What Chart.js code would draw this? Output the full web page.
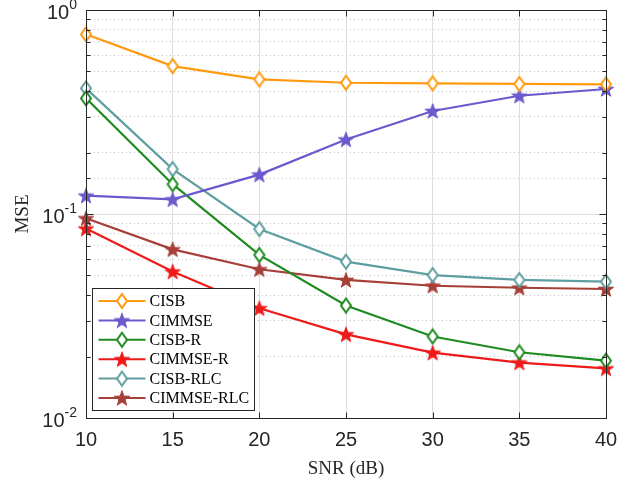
<!DOCTYPE html>
<html>
<head>
<meta charset="utf-8">
<script src="https://cdn.jsdelivr.net/npm/chart.js@4.4.1/dist/chart.umd.min.js"></script>
<style>
  html, body { margin: 0; padding: 0; background: #fff; }
  #grafico { display: block; }
</style>
</head>
<body>
<canvas id="grafico" width="637" height="484"></canvas>
<script>
// valores (MSE x SNR)
const snr = [10, 15, 20, 25, 30, 35, 40];
const cisb = [0.76, 0.531, 0.457, 0.44, 0.437, 0.434, 0.432];
const cimmse = [0.123, 0.118, 0.156, 0.232, 0.32, 0.38, 0.41];
const cisbR = [0.369, 0.14, 0.063, 0.0356, 0.0251, 0.021, 0.0191];
const cimmseR = [0.0848, 0.0522, 0.0345, 0.0257, 0.0209, 0.0187, 0.0175];
const cisbRlc = [0.413, 0.166, 0.0844, 0.0584, 0.0502, 0.0475, 0.0466];
const cimmseRlc = [0.0953, 0.0671, 0.0536, 0.0475, 0.0445, 0.0435, 0.0429];

const nomes = ["CISB", "CIMMSE", "CISB-R", "CIMMSE-R", "CISB-RLC", "CIMMSE-RLC"];
const series = [cisb, cimmse, cisbR, cimmseR, cisbRlc, cimmseRlc];
const cores = ["#FF9A0F", "#6A5ACD", "#1F8A1F", "#EE1A1A", "#5F9EA0", "#A63F38"];
const marcadores = ["diamante", "estrela", "diamante", "estrela", "diamante", "estrela"];

const yMajor = [1, 0.1, 0.01];
const yExpoentes = ["0", "-1", "-2"];

const corEixo = "#262626";

function criarDiamante(cor) {
  const c = document.createElement("canvas");
  c.width = 14;
  c.height = 18;
  const g = c.getContext("2d");
  g.beginPath();
  g.moveTo(7, 2);
  g.lineTo(12, 9);
  g.lineTo(7, 16);
  g.lineTo(2, 9);
  g.closePath();
  g.fillStyle = "#fff";
  g.fill();
  g.lineWidth = 2;
  g.strokeStyle = cor;
  g.stroke();
  return c;
}

function criarEstrela(cor) {
  const size = 18;
  const c = document.createElement("canvas");
  c.width = size;
  c.height = size;
  const g = c.getContext("2d");
  const R = 8;
  const r = R * 0.4;
  g.beginPath();
  for (let i = 0; i < 10; i++) {
    const rad = i % 2 === 0 ? R : r;
    const a = -Math.PI / 2 + (i * Math.PI) / 5;
    const px = size / 2 + rad * Math.cos(a);
    const py = size / 2 + 0.7 + rad * Math.sin(a);
    if (i === 0) g.moveTo(px, py);
    else g.lineTo(px, py);
  }
  g.closePath();
  g.fillStyle = cor;
  g.fill();
  g.lineWidth = 1;
  g.strokeStyle = cor;
  g.stroke();
  return c;
}

function isMajor(v) {
  const l = Math.log10(v);
  return Math.abs(l - Math.round(l)) < 1e-6;
}

const datasets = series.map((vals, i) => {
  const estilo = marcadores[i] === "diamante" ? criarDiamante(cores[i]) : criarEstrela(cores[i]);
  return {
    label: nomes[i],
    data: snr.map((x, k) => ({ x: x, y: vals[k] })),
    borderColor: cores[i],
    backgroundColor: cores[i],
    borderWidth: 2.2,
    pointStyle: estilo,
    pointRadius: 7,
    tension: 0,
    clip: false,
  };
});

// moldura, ticks para dentro e rótulos 10^n
const eixosPlugin = {
  id: "eixosMatlab",
  afterDraw(chart) {
    const ctx = chart.ctx;
    const a = chart.chartArea;
    const xs = chart.scales.x;
    const ys = chart.scales.y;
    ctx.save();
    ctx.strokeStyle = corEixo;
    ctx.lineWidth = 1;
    const L = Math.round(a.left) + 0.5;
    const R = Math.round(a.right) + 0.5;
    const T = Math.round(a.top) + 0.5;
    const B = Math.round(a.bottom) + 0.5;
    ctx.strokeRect(L, T, R - L, B - T);

    ctx.beginPath();
    xs.ticks.forEach((t) => {
      const px = Math.round(xs.getPixelForValue(t.value)) + 0.5;
      ctx.moveTo(px, B);
      ctx.lineTo(px, B - 6);
      ctx.moveTo(px, T);
      ctx.lineTo(px, T + 6);
    });
    ys.ticks.forEach((t) => {
      const py = Math.round(ys.getPixelForValue(t.value)) + 0.5;
      const len = isMajor(t.value) ? 7 : 4;
      ctx.moveTo(L, py);
      ctx.lineTo(L + len, py);
      ctx.moveTo(R, py);
      ctx.lineTo(R - len, py);
    });
    ctx.stroke();

    ctx.fillStyle = corEixo;
    ctx.textBaseline = "middle";
    yMajor.forEach((v, i) => {
      const py = ys.getPixelForValue(v);
      ctx.font = "14px 'Liberation Sans', Arial, sans-serif";
      ctx.textAlign = "right";
      const expW = ctx.measureText(yExpoentes[i]).width;
      ctx.fillText(yExpoentes[i], 77, py - 5);
      ctx.font = "20px 'Liberation Sans', Arial, sans-serif";
      ctx.fillText("10", 77 - expW, py + 3);
    });
    ctx.restore();
  },
};

const legendaPlugin = {
  id: "legendaMatlab",
  afterDraw(chart) {
    const ctx = chart.ctx;
    const x0 = 92.5;
    const y0 = 288.5;
    const w = 162;
    const h = 122;
    ctx.save();
    ctx.fillStyle = "#fff";
    ctx.fillRect(x0, y0, w, h);
    ctx.strokeStyle = corEixo;
    ctx.lineWidth = 1;
    ctx.strokeRect(x0, y0, w, h);
    ctx.font = "16px 'Liberation Serif', 'Times New Roman', serif";
    ctx.textAlign = "left";
    ctx.textBaseline = "middle";
    chart.data.datasets.forEach((ds, i) => {
      const cy = y0 + 12.5 + i * 19.4;
      ctx.strokeStyle = ds.borderColor;
      ctx.lineWidth = 2;
      ctx.beginPath();
      ctx.moveTo(x0 + 6, cy);
      ctx.lineTo(x0 + 53, cy);
      ctx.stroke();
      const img = ds.pointStyle;
      ctx.drawImage(img, x0 + 29.5 - img.width / 2, cy - img.height / 2);
      ctx.fillStyle = "#000";
      ctx.fillText(ds.label, x0 + 57, cy + 1);
    });
    ctx.restore();
  },
};

const ctx = document.getElementById("grafico").getContext("2d");
const chart = new Chart(ctx, {
  type: "line",
  data: { datasets: datasets },
  options: {
    responsive: false,
    animation: false,
    layout: { padding: { left: 0, right: 31, top: 10, bottom: 0 } },
    plugins: {
      legend: { display: false },
      tooltip: { enabled: false },
    },
    scales: {
      x: {
        type: "linear",
        min: 10,
        max: 40,
        afterFit: (scale) => {
          scale.height = 66;
        },
        ticks: {
          stepSize: 5,
          padding: 10,
          color: corEixo,
          font: { family: "'Liberation Sans', Arial, sans-serif", size: 20 },
        },
        grid: { color: "#DEDEDE", lineWidth: 1, drawTicks: false },
        border: { display: false },
        title: {
          display: true,
          text: "SNR (dB)",
          color: corEixo,
          padding: { top: 0, bottom: 4 },
          font: { family: "'Liberation Serif', 'Times New Roman', serif", size: 19 },
        },
      },
      y: {
        type: "logarithmic",
        min: 0.01,
        max: 1,
        afterFit: (scale) => {
          scale.width = 86;
        },
        ticks: { display: false },
        grid: {
          drawTicks: false,
          lineWidth: 1,
          color: (c) => (c.tick && isMajor(c.tick.value) ? "#DEDEDE" : "#C4C4C4"),
        },
        border: {
          display: false,
          dash: (c) => (c.tick && !isMajor(c.tick.value) ? [1, 3] : []),
        },
        title: {
          display: true,
          text: "MSE",
          color: corEixo,
          padding: { top: 12, bottom: 0 },
          font: { family: "'Liberation Serif', 'Times New Roman', serif", size: 19 },
        },
      },
    },
  },
  plugins: [eixosPlugin, legendaPlugin],
});
</script>
</body>
</html>
